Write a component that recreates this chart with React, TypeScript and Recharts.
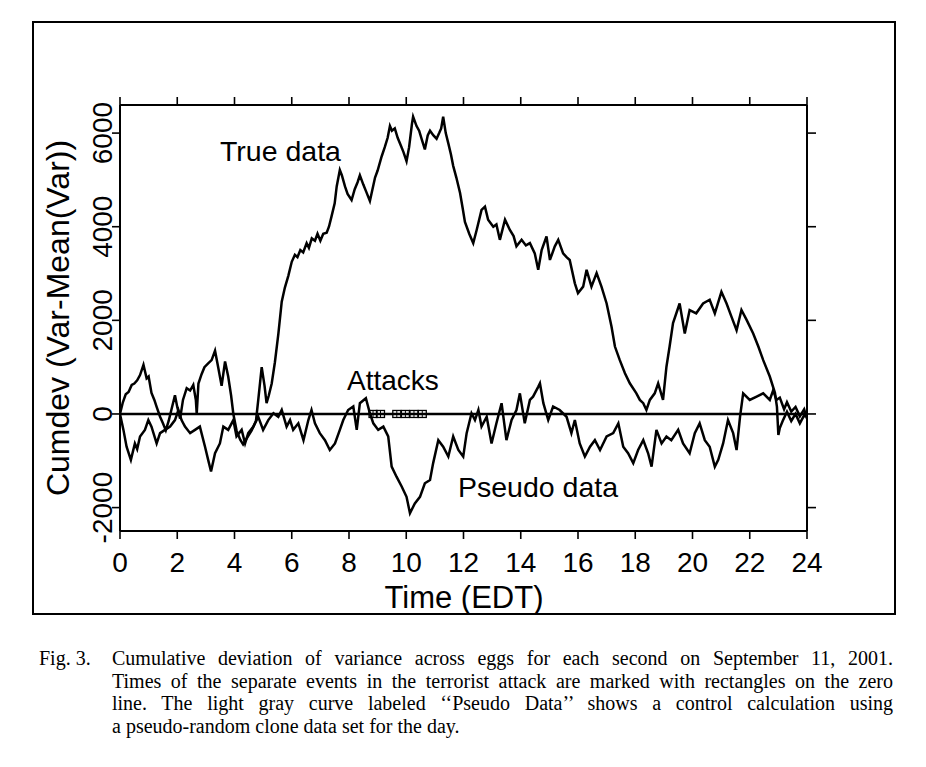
import React from "react";
import { ComposedChart, Line, Scatter, XAxis, YAxis, ReferenceLine } from "recharts";

// hours (EDT) and cumulative deviation
const trueTimes = [
  0, 0.1, 0.2, 0.3, 0.41, 0.5, 0.6, 0.7, 0.82, 0.93, 1.0, 1.1, 1.2, 1.28, 1.4, 1.5, 1.6, 1.7, 1.8, 1.92,
  2.0, 2.1, 2.2, 2.33, 2.45, 2.56, 2.65, 2.68, 2.74, 2.85, 2.95, 3.08, 3.2, 3.32, 3.43, 3.55, 3.67, 3.78, 3.88, 3.96,
  4.07, 4.2, 4.3, 4.45, 4.6, 4.75, 4.83, 4.95, 5.05, 5.12, 5.2, 5.3, 5.41, 5.53, 5.65, 5.76, 5.88, 6.0, 6.11, 6.2,
  6.3, 6.4, 6.52, 6.6, 6.7, 6.81, 6.9, 7.0, 7.1, 7.22, 7.3, 7.39, 7.5, 7.57, 7.68, 7.75, 7.86, 7.95, 8.09, 8.2,
  8.3, 8.38, 8.5, 8.6, 8.73, 8.82, 8.91, 9.0, 9.14, 9.25, 9.35, 9.43, 9.5, 9.6, 9.7, 9.8, 9.9, 10.01, 10.1, 10.2,
  10.24, 10.36, 10.45, 10.55, 10.65, 10.75, 10.83, 10.95, 11.06, 11.15, 11.22, 11.29, 11.38, 11.47, 11.56, 11.64, 11.75, 11.88, 11.97, 12.05,
  12.2, 12.34, 12.46, 12.63, 12.75, 12.86, 13.04, 13.15, 13.27, 13.45, 13.62, 13.75, 13.85, 14.03, 14.18, 14.32, 14.49, 14.61, 14.73, 14.9,
  15.02, 15.19, 15.31, 15.48, 15.6, 15.71, 15.89, 16.0, 16.18, 16.3, 16.47, 16.65, 16.82, 17.0, 17.17, 17.29, 17.46, 17.64, 17.81, 18.04,
  18.16, 18.28, 18.39, 18.51, 18.68, 18.8, 18.97, 19.09, 19.2, 19.32, 19.55, 19.73, 19.9, 20.13, 20.37, 20.6, 20.78, 21.01, 21.19, 21.36,
  21.54, 21.71, 21.89, 22.12, 22.3, 22.47, 22.7, 22.88, 22.95, 23.0, 23.05, 23.15, 23.3, 23.45, 23.6, 23.75, 23.88, 24.0,
];
const trueValues = [
  0, 250, 420, 470, 620, 650, 720, 830, 1050, 760, 800, 450, 300, 150, -60, -200, -350, -150, 100, 400,
  150, -100, 300, 550, 500, 620, 300, 0, 650, 850, 1000, 1080, 1150, 1350, 1000, 600, 1120, 800, 400, 0,
  -350, -550, -650, -500, -350, -150, 300, 1000, 600, 230, 400, 650, 1100, 1700, 2400, 2700, 2950, 3250, 3400, 3350,
  3500, 3450, 3650, 3550, 3750, 3700, 3850, 3700, 3850, 3870, 4000, 4220, 4500, 4860, 5210, 5100, 4860, 4700, 4570, 4800,
  4950, 5100, 4900, 4750, 4550, 4800, 5050, 5200, 5500, 5700, 5900, 6150, 6050, 6100, 5900, 5750, 5600, 5400, 5700, 6200,
  6350, 6150, 6050, 5850, 5650, 5950, 6050, 5950, 5880, 6000, 6100, 6350, 6000, 5780, 5550, 5300, 5050, 4720, 4400, 4100,
  3850, 3650, 3930, 4360, 4430, 4150, 4000, 4050, 3720, 4150, 3930, 3800, 3580, 3720, 3600, 3650, 3430, 3080, 3500, 3790,
  3290, 3580, 3720, 3430, 3350, 3290, 2790, 2580, 2720, 3080, 2720, 3010, 2720, 2360, 1870, 1440, 1150, 870, 655, 440,
  300, 230, 85, 300, 440, 655, 300, 1010, 1440, 1940, 2360, 1720, 2220, 2150, 2360, 2440, 2150, 2610, 2360, 2080,
  1790, 2220, 2010, 1720, 1440, 1150, 800, 450, 150, -450, -300, -150, 50, -150, 0, -200, -50, -50,
];

const pseudoTimes = [
  0, 0.12, 0.23, 0.38, 0.52, 0.6, 0.7, 0.87, 0.99, 1.1, 1.28, 1.4, 1.57, 1.75, 1.92, 2.04, 2.15, 2.27, 2.45, 2.62,
  2.79, 2.97, 3.08, 3.18, 3.32, 3.49, 3.61, 3.78, 3.96, 4.07, 4.25, 4.37, 4.48, 4.66, 4.83, 5.0, 5.18, 5.36, 5.53, 5.65,
  5.82, 5.94, 6.05, 6.23, 6.41, 6.58, 6.69, 6.81, 6.98, 7.16, 7.33, 7.51, 7.68, 7.8, 7.97, 8.15, 8.27, 8.38, 8.59, 8.73,
  8.85, 9.02, 9.2, 9.37, 9.49, 9.66, 9.84, 10.01, 10.13, 10.3, 10.48, 10.65, 10.83, 10.94, 11.12, 11.29, 11.47, 11.64, 11.82, 11.99,
  12.11, 12.28, 12.4, 12.52, 12.63, 12.81, 12.98, 13.15, 13.33, 13.5, 13.68, 13.85, 13.97, 14.14, 14.32, 14.43, 14.61, 14.67, 14.79, 14.96,
  15.13, 15.36, 15.6, 15.77, 15.89, 16.06, 16.24, 16.42, 16.59, 16.77, 17.0, 17.23, 17.41, 17.58, 17.75, 17.93, 18.1, 18.28, 18.45, 18.57,
  18.74, 18.92, 19.09, 19.26, 19.5, 19.67, 19.9, 20.08, 20.25, 20.43, 20.6, 20.78, 20.9, 21.07, 21.24, 21.42, 21.54, 21.66, 21.77, 22.0,
  22.24, 22.47, 22.7, 22.82, 22.93, 23.05, 23.2, 23.3, 23.45, 23.6, 23.75, 23.9, 24.0,
];
const pseudoValues = [
  0, -340, -700, -980, -630, -750, -480, -340, -130, -270, -630, -410, -340, -270, -130, 85, -130, -270, -410, -340,
  -270, -700, -980, -1230, -840, -630, -270, -340, -130, -480, -340, -630, -410, -270, -60, -340, -130, 15, -60, 85,
  -270, -130, -340, -200, -560, -130, 85, -200, -410, -560, -770, -630, -340, -130, 85, 160, -340, 230, 335, 15,
  -200, -340, -270, -480, -1125, -1340, -1550, -1770, -2120, -1910, -1770, -1480, -1410, -1050, -560, -700, -910, -480, -770, -910,
  -410, 15, -130, 85, -270, -60, -630, -200, 230, -560, -130, 85, 440, -200, 300, 370, 580, 655, 230, -130,
  160, 85, -60, -410, -130, -630, -910, -700, -560, -770, -480, -410, -200, -700, -840, -1050, -770, -560, -840, -1125,
  -340, -630, -480, -560, -340, -630, -840, -410, -200, -560, -700, -1125, -980, -630, -130, -410, -770, -60, 440, 300,
  370, 440, 300, 510, 300, 350, 100, 250, 50, 150, -50, 100, -100,
];

const attackTimes = [8.84, 9.1, 9.67, 9.97, 10.27, 10.56];
const xTicks = [0, 2, 4, 6, 8, 10, 12, 14, 16, 18, 20, 22, 24];
const yTicks = [-2000, 0, 2000, 4000, 6000];

const trueData = trueTimes.map((t, i) => ({ t, v: trueValues[i] }));
const pseudoData = pseudoTimes.map((t, i) => ({ t, v: pseudoValues[i] }));
const attackData = attackTimes.map((t) => ({ t, v: 0 }));

const SANS = "'Liberation Sans', Arial, Helvetica, sans-serif";
const SERIF = "'Liberation Serif', 'Times New Roman', serif";
const AXIS_LINE = { stroke: "#000", strokeWidth: 2 };
const TICK_LINE = { stroke: "#000", strokeWidth: 1.6 };

function YTick({ x, y, payload }: any) {
  return (
    <text x={x} y={y} transform={`rotate(-90, ${x}, ${y})`} textAnchor="middle"
      fontSize={28} fontFamily={SANS} fill="#000">{payload.value}</text>
  );
}

function XTick({ x, y, payload }: any) {
  return (
    <text x={x} y={y + 33} textAnchor="middle" fontSize={28} fontFamily={SANS} fill="#000">
      {payload.value}
    </text>
  );
}

const NoTick = () => <g />;

function AttackMark({ cx, cy }: any) {
  return (
    <g>
      <rect x={cx - 4} y={cy - 3.5} width={8} height={7} fill="none" stroke="#000" strokeWidth={1.3} />
      <line x1={cx} x2={cx} y1={cy - 3.5} y2={cy + 3.5} stroke="#000" strokeWidth={1} />
    </g>
  );
}

const captionLines = [
  "Cumulative deviation of variance across eggs for each second on September 11, 2001.",
  "Times of the separate events in the terrorist attack are marked with rectangles on the zero",
  "line. The light gray curve labeled \u2018\u2018Pseudo Data\u2019\u2019 shows a control calculation using",
  "a pseudo-random clone data set for the day.",
];

const captionStyle = { fontFamily: SERIF, fontSize: 20, lineHeight: "22.5px", color: "#000" };

export default function App() {
  return (
    <div style={{ position: "absolute", left: 0, top: 0, width: 926, height: 767, background: "#fff" }}>
      <div style={{ position: "absolute", left: 32, top: 21, width: 864, height: 594, border: "2px solid #000", boxSizing: "border-box" }} />
      <div style={{ position: "absolute", left: 0, top: 0 }}>
        <ComposedChart width={926} height={640} margin={{ top: 85, right: 99, bottom: 49, left: 60 }}>
          <XAxis xAxisId="bottom" dataKey="t" type="number" domain={[0, 24]} ticks={xTicks} allowDataOverflow
            axisLine={AXIS_LINE} tickLine={TICK_LINE} tickSize={8} tickMargin={0} height={60} tick={<XTick />} />
          <XAxis xAxisId="top" orientation="top" dataKey="t" type="number" domain={[0, 24]} ticks={xTicks} allowDataOverflow
            axisLine={AXIS_LINE} tickLine={TICK_LINE} tickSize={8} height={20} tick={NoTick} />
          <YAxis yAxisId="left" type="number" domain={[-2500, 6600]} ticks={yTicks} allowDataOverflow
            axisLine={AXIS_LINE} tickLine={TICK_LINE} tickSize={8} tickMargin={0} width={60} tick={<YTick />} />
          <YAxis yAxisId="right" orientation="right" type="number" domain={[-2500, 6600]} ticks={yTicks} allowDataOverflow
            axisLine={AXIS_LINE} tickLine={TICK_LINE} tickSize={9} width={20} tick={NoTick} />
          <ReferenceLine xAxisId="bottom" yAxisId="left" y={0} stroke="#000" strokeWidth={2.6} />
          <Line xAxisId="bottom" yAxisId="left" data={pseudoData} dataKey="v" type="linear" stroke="#000"
            strokeWidth={2.5} dot={false} isAnimationActive={false} />
          <Line xAxisId="bottom" yAxisId="left" data={trueData} dataKey="v" type="linear" stroke="#000"
            strokeWidth={2.5} dot={false} isAnimationActive={false} />
          <Scatter xAxisId="bottom" yAxisId="left" data={attackData} dataKey="v" shape={<AttackMark />}
            isAnimationActive={false} />
        </ComposedChart>
      </div>
      <svg width={926} height={640} style={{ position: "absolute", left: 0, top: 0, pointerEvents: "none" }}>
        <g fontFamily={SANS} fill="#000">
          <text x={220} y={161} fontSize={28.5}>True data</text>
          <text x={347} y={390} fontSize={28}>Attacks</text>
          <text x={458} y={497} fontSize={28.5}>Pseudo data</text>
          <text x={464} y={608} fontSize={31} textAnchor="middle">Time (EDT)</text>
          <text x={69} y={318} fontSize={32} textAnchor="middle" transform="rotate(-90, 69, 318)">Cumdev (Var-Mean(Var))</text>
        </g>
      </svg>
      <div style={{ ...captionStyle, position: "absolute", left: 39, top: 647 }}>Fig. 3.</div>
      <div style={{ ...captionStyle, position: "absolute", left: 112, top: 647, width: 781 }}>
        {captionLines.map((line, i) => (
          <div key={i} style={i < 3
            ? { textAlign: "justify", textAlignLast: "justify", whiteSpace: "nowrap" }
            : { whiteSpace: "nowrap" }}>
            {line}
          </div>
        ))}
      </div>
    </div>
  );
}
